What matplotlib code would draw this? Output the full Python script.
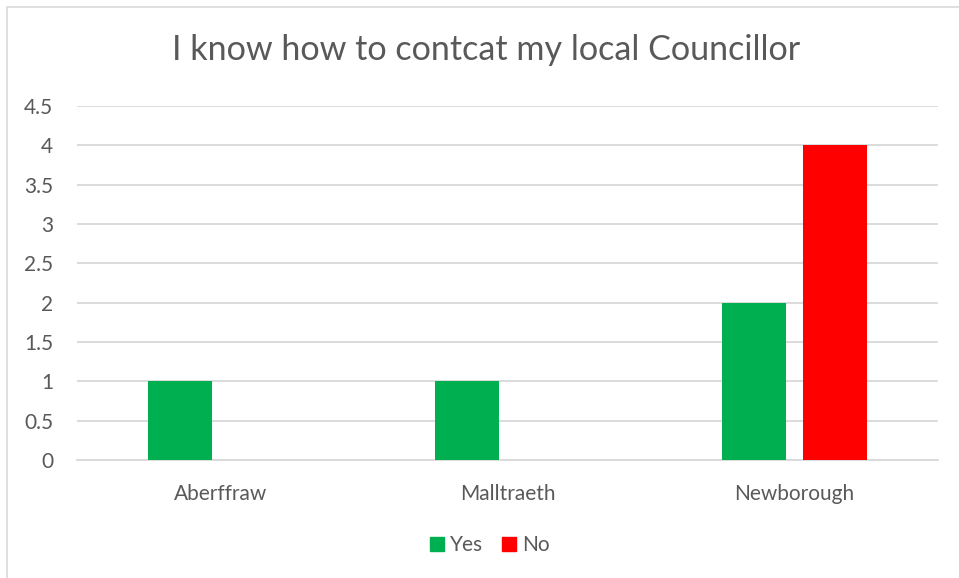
import matplotlib.pyplot as plt
from matplotlib.patches import Patch, Rectangle
import numpy as np

# data
categories = ["Aberffraw", "Malltraeth", "Newborough"]
yes_vals = [1, 1, 2]
no_vals = [0, 0, 4]
y_ticks = [0, 0.5, 1, 1.5, 2, 2.5, 3, 3.5, 4, 4.5]

GREEN = "#00B050"
RED = "#FF0000"
TXT = "#595959"
GRID = "#D9D9D9"

plt.rcParams['font.family'] = ['Lato', 'DejaVu Sans']

W, H = 959, 578
fig = plt.figure(figsize=(W / 100, H / 100), dpi=100)
fig.patch.set_facecolor("white")

# chart border (right and bottom run off the image)
fig.patches.append(Rectangle((7 / W, -0.05), 1.1, 1.05 - 7 / H,
                             transform=fig.transFigure, fill=False,
                             edgecolor="#D9D9D9", linewidth=1.2))

ax = fig.add_axes([77 / W, 1 - 460 / H, (938 - 77) / W, (460 - 106) / H])

x = np.arange(len(categories))
bw = 0.224
off = 0.141
ax.bar(x - off, yes_vals, bw, color=GREEN, zorder=3)
ax.bar(x + off, no_vals, bw, color=RED, zorder=3)

ax.set_xlim(-0.5, len(categories) - 0.5)
ax.set_ylim(0, 4.5)
ax.set_yticks(y_ticks)
ax.set_yticklabels([f"{t:g}" for t in y_ticks], color=TXT, fontsize=15)
ax.set_xticks(x)
ax.set_xticklabels(categories, color=TXT, fontsize=15)
ax.tick_params(axis='both', length=0)
ax.tick_params(axis='y', pad=17)
ax.tick_params(axis='x', pad=17)

ax.grid(axis='y', color=GRID, linewidth=1.3, zorder=0)
for s in ["top", "right", "left"]:
    ax.spines[s].set_visible(False)
ax.spines["bottom"].set_color(GRID)
ax.spines["bottom"].set_linewidth(1.3)

fig.text(486 / W, 1 - 50 / H, "I know how to contcat my local Councillor",
         ha="center", va="center", fontsize=24.6, color=TXT)

handles = [Patch(color=GREEN, label="Yes"), Patch(color=RED, label="No")]
fig.legend(handles=handles, loc="center", bbox_to_anchor=(490 / W, 1 - 545 / H),
           ncol=2, frameon=False, fontsize=15, labelcolor=TXT,
           handlelength=0.65, handleheight=0.65, handletextpad=0.3,
           columnspacing=0.9)

fig.savefig("out.png", dpi=100)
